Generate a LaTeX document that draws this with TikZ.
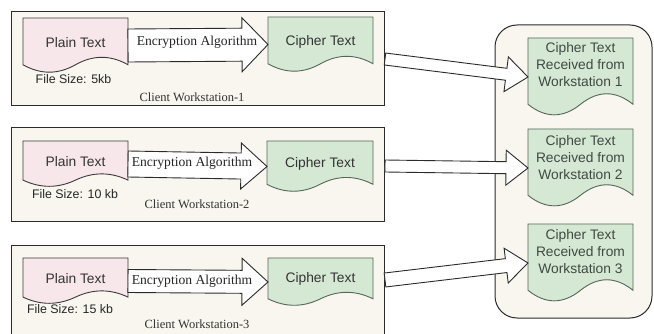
\documentclass[tikz,border=0pt]{standalone}
\usepackage{fontspec}
\setmainfont{Liberation Serif}
\setsansfont{Liberation Sans}
\usetikzlibrary{calc}

\definecolor{panelfill}{HTML}{F8F6EF}
\definecolor{panelline}{HTML}{2B2B2B}
\definecolor{plainfill}{HTML}{F7E6EA}
\definecolor{plainline}{HTML}{3A3A3A}
\definecolor{cipherfill}{HTML}{D5E8D4}
\definecolor{cipherline}{HTML}{56665A}
\definecolor{inktext}{HTML}{333333}
\definecolor{servertext}{HTML}{3F4A42}

\tikzset{
  panel/.style={draw=panelline, fill=panelfill, line width=1pt},
  plaindoc/.style={draw=plainline, fill=plainfill, line width=0.9pt},
  cipherdoc/.style={draw=cipherline, fill=cipherfill, line width=0.9pt},
  docbox/.style={inner sep=0pt, outer sep=0pt, draw=none},
  doctext/.style={font=\sffamily\fontsize{13.8}{17}\selectfont, text=inktext, align=center, inner sep=0pt},
  blockarrow/.style={draw=panelline, fill=white, line width=0.9pt, line join=miter},
  algotext/.style={font=\fontsize{13.6}{15}\selectfont, text=black!85, inner sep=0pt},
  sizetext/.style={font=\sffamily\fontsize{12.4}{14}\selectfont, text=black!85, inner sep=0pt},
  clienttext/.style={font=\fontsize{12.5}{14}\selectfont, text=black!80, inner sep=0pt},
}

% document sheet with a wavy lower edge: name, x, y, w, h, style, text, text raise
\newcommand\docsheet[8]{%
  \path[#6] (#2,#3) -- ({#2+#4},#3) -- ({#2+#4},{#3+0.85*#5})
    .. controls ({#2+0.8333*#4},{#3+0.67*#5}) and ({#2+0.6667*#4},{#3+0.67*#5}) .. ({#2+0.5*#4},{#3+0.85*#5})
    .. controls ({#2+0.3333*#4},{#3+1.03*#5}) and ({#2+0.1667*#4},{#3+1.03*#5}) .. (#2,{#3+0.85*#5}) -- cycle;
  \node[docbox, minimum width=#4pt, minimum height=#5pt,
        label={[doctext, name=#1-text, yshift=#8pt]center:#7}]
        (#1) at ({#2+0.5*#4},{#3+0.5*#5}) {};%
}

% wide arrow with a triangular head: from, to, shaft half width, head half width, head length, style
\newcommand\widearrow[6]{%
  \draw[#6] let \p1=(#1), \p2=(#2),
      \n1={veclen(\x2-\x1,\y2-\y1)},
      \n2={(\x2-\x1)/\n1}, \n3={(\y2-\y1)/\n1}
    in ({\x1-#3*\n3},{\y1+#3*\n2})
    -- ({\x1+(\n1-#5)*\n2-#3*\n3},{\y1+(\n1-#5)*\n3+#3*\n2})
    -- ({\x1+(\n1-#5)*\n2-#4*\n3},{\y1+(\n1-#5)*\n3+#4*\n2})
    -- (\p2)
    -- ({\x1+(\n1-#5)*\n2+#4*\n3},{\y1+(\n1-#5)*\n3-#4*\n2})
    -- ({\x1+(\n1-#5)*\n2+#3*\n3},{\y1+(\n1-#5)*\n3-#3*\n2})
    -- ({\x1+#3*\n3},{\y1-#3*\n2})
    -- cycle;%
}

\begin{document}
\begin{tikzpicture}[x=1pt, y=-1pt]
\useasboundingbox (0,0) rectangle (654,334);
\clip (0,0) rectangle (654,334);
\fill[white] (0,0) rectangle (654,334);

% client workstation panels
\node[panel, minimum width=373pt, minimum height=94pt, inner sep=0pt] (ws1) at (197.5,59) {};
\node[panel, minimum width=373pt, minimum height=94pt, inner sep=0pt] (ws2) at (197.5,175) {};
\node[panel, minimum width=373pt, minimum height=99pt, inner sep=0pt] (ws3) at (197.5,295.5) {};

% receiving server panel
\node[panel, rounded corners=22pt, minimum width=157pt, minimum height=293pt, inner sep=0pt] (srv) at (573.5,171.5) {};

% workstation 1
\docsheet{p1}{23}{18}{105}{55}{plaindoc}{Plain Text}{3}
\docsheet{c1}{268}{17}{105}{55}{cipherdoc}{Cipher Text}{3}
\widearrow{p1.east}{c1.west}{16.5}{27}{26}{blockarrow}
\node[algotext] (e1) at (197,42) {Encryption Algorithm};
\node[sizetext] (s1) at (73.5,79) {File Size: 5kb};
\node[clienttext] (n1) at (192,97) {Client Workstation-1};

% workstation 2
\docsheet{p2}{23}{141}{105}{46}{plaindoc}{Plain Text}{2}
\docsheet{c2}{267}{141}{106}{51}{cipherdoc}{Cipher Text}{3}
\widearrow{p2.east}{c2.west}{13}{23}{26}{blockarrow}
\node[algotext] (e2) at (192,163) {Encryption Algorithm};
\node[sizetext] (s2) at (75,194) {File Size: 10 kb};
\node[clienttext] (n2) at (197,204) {Client Workstation-2};

% workstation 3
\docsheet{p3}{23}{258}{105}{46}{plaindoc}{Plain Text}{2}
\docsheet{c3}{268}{258}{105}{48}{cipherdoc}{Cipher Text}{3}
\widearrow{p3.east}{c3.west}{11.5}{23.5}{26}{blockarrow}
\node[algotext] (e3) at (192,281) {Encryption Algorithm};
\node[sizetext] (s3) at (70,309) {File Size: 15 kb};
\node[clienttext] (n3) at (197,324) {Client Workstation-3};

% received cipher texts
\tikzset{doctext/.append style={text=servertext}}
\docsheet{r1}{528}{38}{105}{78}{cipherdoc}{Cipher Text\\Received from\\Workstation 1}{12}
\docsheet{r2}{528}{129}{105}{78}{cipherdoc}{Cipher Text\\Received from\\Workstation 2}{10}
\docsheet{r3}{528}{224}{105}{78}{cipherdoc}{Cipher Text\\Received from\\Workstation 3}{11}

% transfers to the server
\coordinate (t1) at (385,59);
\coordinate (t2) at (385,166);
\coordinate (t3) at (385,280);
\widearrow{t1}{r1.west}{6}{17.5}{22}{blockarrow}
\widearrow{t2}{r2.west}{6}{17.5}{22}{blockarrow}
\widearrow{t3}{r3.west}{7}{17.5}{22}{blockarrow}
\end{tikzpicture}
\end{document}
